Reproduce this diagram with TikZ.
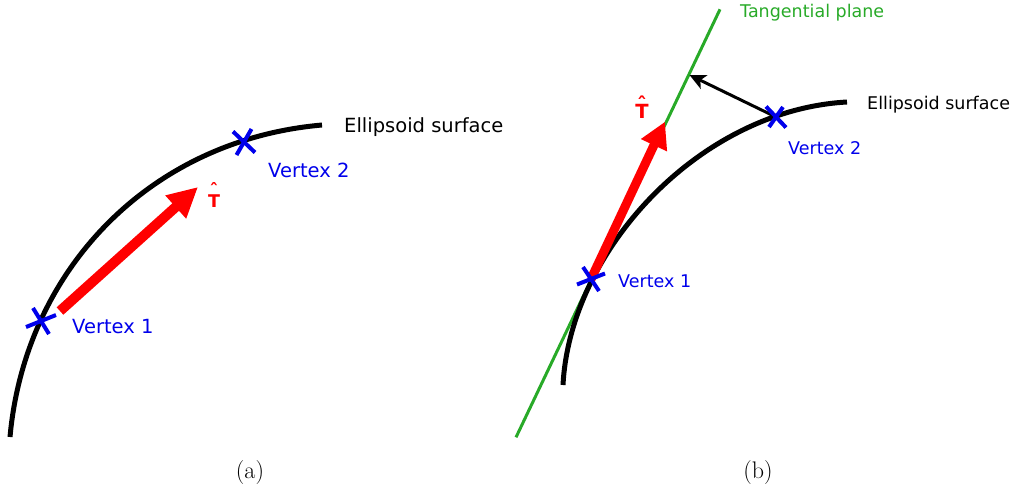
\documentclass[tikz,border=0pt]{standalone}
\usepackage{fontspec}
\newfontfamily\dv{DejaVu Sans}
\usetikzlibrary{arrows.meta,calc}
\definecolor{vblue}{RGB}{0,0,235}
\definecolor{tred}{RGB}{255,0,0}
\definecolor{pgreen}{RGB}{40,170,40}
\newcommand{\thatlbl}[1]{\leavevmode\vbox{\offinterlineskip\halign{\hfil##\hfil\cr\char"02C6\cr\noalign{\kern#1}T\cr}}}
\begin{document}
\begin{tikzpicture}[x=1pt,y=-1pt,
  surface/.style={line width=5pt, black},
  vx/.style={vblue, line width=4pt},
  tarrowa/.style={tred, line width=10pt, -{Triangle[length=30pt,width=29pt]}},
  tarrowb/.style={tred, line width=9pt, -{Triangle[length=26pt,width=27pt]}},
  parrow/.style={black, line width=3pt, -{Stealth[length=16pt,width=15pt,inset=4pt]}},
  plane/.style={pgreen, line width=3pt},
  lbla/.style={font=\dv\fontsize{19.5}{23}\selectfont, anchor=base west, inner sep=0pt},
  lblb/.style={font=\dv\fontsize{17.5}{21}\selectfont, anchor=base west, inner sep=0pt},
  tlbla/.style={font=\dv\bfseries\fontsize{17.5}{21}\selectfont, text=tred, anchor=base, inner sep=0pt},
  tlblb/.style={font=\dv\bfseries\fontsize{19.5}{23}\selectfont, text=tred, anchor=base, inner sep=0pt},
  captxt/.style={font=\fontsize{24}{28}\selectfont, anchor=base, inner sep=0pt}
]
\useasboundingbox (0,0) rectangle (1016,491);

% ---------- panel (a) ----------
\coordinate (a0) at (10,437);
\coordinate (a3) at (322,125);
\draw[surface] (a0) .. controls (25,270) and (150,140) .. (a3);
\coordinate (av1) at (41,321);
\coordinate (av2) at (244,142);
\draw[vx] ($(av1)+(-15,6)$) -- ($(av1)+(15,-6)$);
\draw[vx] ($(av1)+(-8,-13)$) -- ($(av1)+(8,13)$);
\draw[vx] ($(av2)+(-11,-10.5)$) -- ($(av2)+(11,10.5)$);
\draw[vx] ($(av2)+(-7.5,13)$) -- ($(av2)+(7.5,-13)$);
\coordinate (ata) at (60,311);
\coordinate (atb) at (198,187);
\draw[tarrowa] (ata) -- (atb);
\node[tlbla] (aT) at (214,207.5) {\thatlbl{-2pt}};
\node[lbla] (aes) at (344,132) {Ellipsoid surface};
\node[lbla, text=vblue] (av2l) at (268,177) {Vertex 2};
\node[lbla, text=vblue] (av1l) at (72,333) {Vertex 1};
\node[captxt] (capa) at (250,478) {(a)};

% ---------- panel (b) ----------
\coordinate (g0) at (516,437.3);
\coordinate (g1) at (720,9.3);
\draw[plane] (g0) -- (g1);
\coordinate (b0) at (563,385);
\coordinate (b3) at (847,102);
\draw[surface] (b0) .. controls (570,250) and (700,110) .. (b3);
\coordinate (bv1) at (591,279);
\coordinate (bv2) at (776,117);
\coordinate (btip) at (665,121.7);
\coordinate (ptip) at (689.5,75);
\draw[tarrowb] (bv1) -- (btip);
\draw[parrow] (bv2) -- (ptip);
\draw[vx] ($(bv1)+(-14,5.5)$) -- ($(bv1)+(14,-5.5)$);
\draw[vx] ($(bv1)+(-8,-12)$) -- ($(bv1)+(8,12)$);
\draw[vx] ($(bv2)+(-10,-10.5)$) -- ($(bv2)+(10,10.5)$);
\draw[vx] ($(bv2)+(-7,10)$) -- ($(bv2)+(7,-10)$);
\node[tlblb] (bT) at (642,118.5) {\thatlbl{-7pt}};
\node[lblb, text=pgreen] (tp) at (740,17) {Tangential plane};
\node[lblb] (bes) at (867,109) {Ellipsoid surface};
\node[lblb, text=vblue] (bv2l) at (788,154) {Vertex 2};
\node[lblb, text=vblue] (bv1l) at (618,287) {Vertex 1};
\node[captxt] (capb) at (758,478) {(b)};
\end{tikzpicture}
\end{document}
